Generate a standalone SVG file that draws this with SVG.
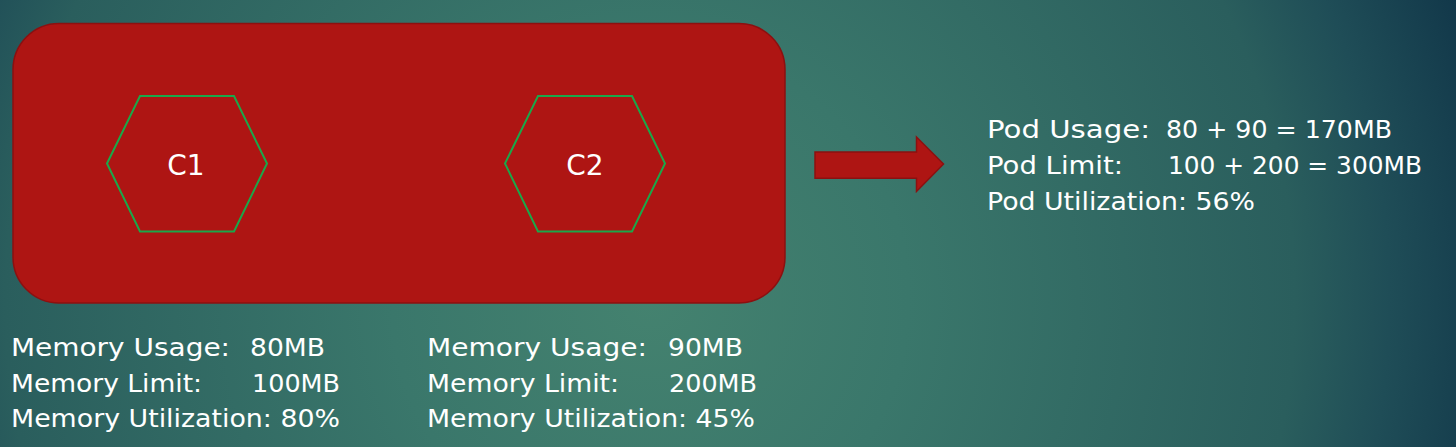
<svg xmlns="http://www.w3.org/2000/svg" width="1456" height="447" viewBox="0 0 1456 447">
  <defs>
    <radialGradient id="bg" gradientUnits="userSpaceOnUse" cx="650" cy="300" r="860">
      <stop offset="0" stop-color="#44826f"/>
      <stop offset="0.3" stop-color="#3a776b"/>
      <stop offset="0.75" stop-color="#2a5e5d"/>
      <stop offset="0.86" stop-color="#1f4d57"/>
      <stop offset="1" stop-color="#12384a"/>
    </radialGradient>
    <style>
      .t { font-family: "DejaVu Sans", "Liberation Sans", sans-serif; fill: #ffffff; font-size: 24.5px; }
      .c { font-family: "DejaVu Sans", "Liberation Sans", sans-serif; fill: #ffffff; font-size: 28px; text-anchor: middle; }
      .hex { fill: none; stroke: #1aa84a; stroke-width: 2; }
      .red { fill: #ae1513; stroke: #8c1010; stroke-width: 1.5; }
    </style>
  </defs>
  <rect x="0" y="0" width="1456" height="447" fill="url(#bg)"/>

  <g id="pod">
    <rect class="red" x="13" y="23.5" width="772" height="279.5" rx="46" ry="46"/>
  </g>

  <g id="c1">
    <polygon class="hex" points="107,163.5 140,96 234,96 267,163.5 234,231.5 140,231.5"/>
    <text class="c" x="186" y="175">C1</text>
  </g>

  <g id="c2">
    <polygon class="hex" points="505,163.5 538,96 632,96 665,163.5 632,231.5 538,231.5"/>
    <text class="c" x="585" y="175">C2</text>
  </g>

  <g id="connectors">
    <polygon class="red" points="815,152 916.5,152 916.5,137 943.5,164 916.5,191.5 916.5,178.3 815,178.3"/>
  </g>

  <g id="c1-stats">
    <text class="t" x="11" y="356" textLength="219" lengthAdjust="spacingAndGlyphs">Memory Usage:</text>
    <text class="t" x="250" y="356" textLength="75" lengthAdjust="spacingAndGlyphs">80MB</text>
    <text class="t" x="11" y="392" textLength="191" lengthAdjust="spacingAndGlyphs">Memory Limit:</text>
    <text class="t" x="252" y="392" textLength="88" lengthAdjust="spacingAndGlyphs">100MB</text>
    <text class="t" x="11" y="427" textLength="329" lengthAdjust="spacingAndGlyphs">Memory Utilization: 80%</text>
  </g>

  <g id="c2-stats">
    <text class="t" x="427" y="356" textLength="220" lengthAdjust="spacingAndGlyphs">Memory Usage:</text>
    <text class="t" x="668" y="356" textLength="75" lengthAdjust="spacingAndGlyphs">90MB</text>
    <text class="t" x="427" y="392" textLength="192" lengthAdjust="spacingAndGlyphs">Memory Limit:</text>
    <text class="t" x="669" y="392" textLength="88" lengthAdjust="spacingAndGlyphs">200MB</text>
    <text class="t" x="427" y="427" textLength="328" lengthAdjust="spacingAndGlyphs">Memory Utilization: 45%</text>
  </g>

  <g id="pod-stats">
    <text class="t" x="987" y="138" textLength="163" lengthAdjust="spacingAndGlyphs">Pod Usage:</text>
    <text class="t" x="1166" y="138" textLength="226" lengthAdjust="spacingAndGlyphs">80 + 90 = 170MB</text>
    <text class="t" x="987" y="174" textLength="136" lengthAdjust="spacingAndGlyphs">Pod Limit:</text>
    <text class="t" x="1168" y="174" textLength="254" lengthAdjust="spacingAndGlyphs">100 + 200 = 300MB</text>
    <text class="t" x="987" y="210" textLength="268" lengthAdjust="spacingAndGlyphs">Pod Utilization: 56%</text>
  </g>
</svg>
